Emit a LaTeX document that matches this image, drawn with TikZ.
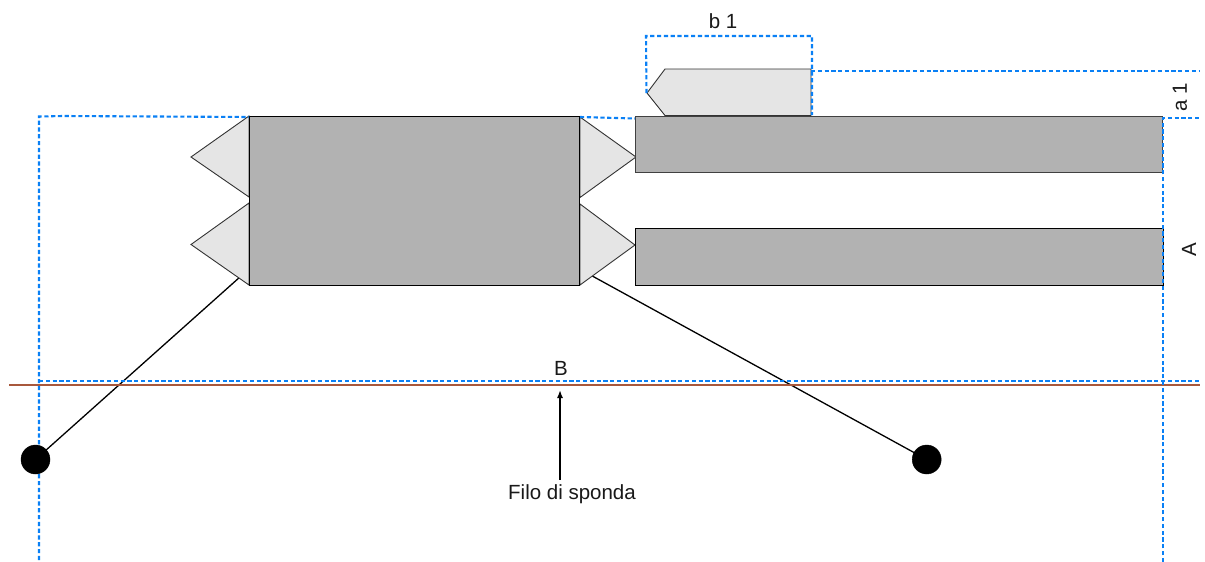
\documentclass[tikz,border=0pt]{standalone}
\usepackage{fontspec}
\usetikzlibrary{arrows.meta}
\setmainfont{Liberation Sans}
\definecolor{guide}{HTML}{0A80F5}
\definecolor{shore}{HTML}{A8583C}
\definecolor{darkfill}{HTML}{B2B2B2}
\definecolor{lightfill}{HTML}{E5E5E5}
\tikzset{
  block/.style={draw=black,line width=0.95pt,fill=darkfill,inner sep=0pt,outer sep=0pt,anchor=north west},
  fender/.style={draw=black!80,line width=0.9pt,fill=lightfill,line join=miter},
  guideline/.style={draw=guide,line width=2.1pt,dash pattern=on 4.2pt off 2.6pt},
  shoreline/.style={draw=shore,line width=1.4pt},
  anchorball/.style={circle,draw=black,fill=black,inner sep=0pt,outer sep=0pt,minimum size=29pt},
  chain/.style={draw=black,line width=1.3pt},
  lbl/.style={font=\fontsize{20.5pt}{24pt}\selectfont,inner sep=0pt,text=black!90}
}
\begin{document}
\begin{tikzpicture}[x=1pt,y=-1pt]
\useasboundingbox[fill=white] (0,0) rectangle (1205,562);
% chains, drawn under the fenders
\coordinate (chainL) at (245,272.5);
\coordinate (chainR) at (585,272);
\coordinate (ballLc) at (35.5,459.5);
\coordinate (ballRc) at (926.7,459.5);
\draw[chain] (ballLc) -- (chainL);
\draw[chain] (ballRc) -- (chainR);
% fenders
\draw[fender] (249,116) -- (191,157) -- (249,197) -- cycle;
\draw[fender] (249,203) -- (191,244.5) -- (249,285) -- cycle;
\draw[fender] (580,117) -- (636,157) -- (580,197.5) -- cycle;
\draw[fender] (580,204) -- (635,245) -- (580,285) -- cycle;
\draw[fender] (811,115.5) -- (811,69) -- (665,69) -- (647,93) -- (665,115.5) -- cycle;
% boats
\node[block,minimum width=330.5pt,minimum height=169pt] (hull) at (249,116) {};
\node[block,draw=black!75,minimum width=526.5pt,minimum height=56pt] (bar1) at (635.5,116) {};
\node[block,minimum width=528pt,minimum height=57pt] (bar2) at (635,228.5) {};
% shoreline
\coordinate (shoreA) at (9,385);
\coordinate (shoreB) at (1200,385);
\draw[shoreline] (shoreA) -- (shoreB);
% guides
\draw[guideline] (39,560) -- (39,116.5) -- (63,116) -- (249,117);
\draw[guideline] (580,117) -- (635,118.5);
\draw[guideline] (39,381) -- (1200,381);
\draw[guideline] (1163,562) -- (1163,118) -- (1200,118);
\draw[guideline] (811,71) -- (1200,71);
\draw[guideline] (646.5,93) -- (646,36) -- (812,36) -- (812,115);
% anchors
\node[anchorball] (ballL) at (ballLc) {};
\node[anchorball] (ballR) at (ballRc) {};
% labels
\node[lbl] (lblb1) at (723,21) {b 1};
\node[lbl,rotate=90] (lbla1) at (1180,97.5) {a 1};
\node[lbl,rotate=90] (lblA) at (1189,250) {A};
\node[lbl] (lblB) at (561,368.5) {B};
\node[lbl] (lblfilo) at (572,494.5) {Filo di sponda};
\coordinate (tip) at (560,390);
\coordinate (tail) at (560,479.5);
\draw[draw=black,line width=1.5pt,-{Latex[length=8pt,width=6pt]}] (tail) -- (tip);
\end{tikzpicture}
\end{document}
